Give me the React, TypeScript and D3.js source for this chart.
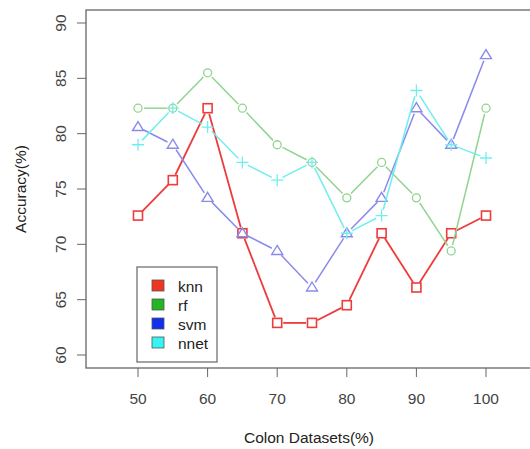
import * as d3 from "d3";

const xVals = [50, 55, 60, 65, 70, 75, 80, 85, 90, 95, 100];
const knn = [72.6, 75.8, 82.3, 71.0, 62.9, 62.9, 64.5, 71.0, 66.1, 71.0, 72.6];
const rf = [82.3, 82.3, 85.5, 82.3, 79.0, 77.4, 74.2, 77.4, 74.2, 69.4, 82.3];
const svm = [80.6, 79.0, 74.2, 71.0, 69.4, 66.1, 71.0, 74.2, 82.3, 79.0, 87.1];
const nnet = [79.0, 82.3, 80.6, 77.4, 75.8, 77.4, 71.0, 72.6, 83.9, 79.0, 77.8];
const xTicks = [50, 60, 70, 80, 90, 100];
const yTicks = [60, 65, 70, 75, 80, 85, 90];
const legendNames = ["knn", "rf", "svm", "nnet"];

const seriesList = [
  { name: "knn", values: knn, line: "#ee3b3b", mark: "square", fill: "#f0361e" },
  { name: "rf", values: rf, line: "#8fd48f", mark: "circle", fill: "#22b622" },
  { name: "svm", values: svm, line: "#8a8aee", mark: "triangle", fill: "#1030ee" },
  { name: "nnet", values: nnet, line: "#70eeee", mark: "plus", fill: "#36f4f4" },
];

const left = 86;
const right = 536;
const top = 10;
const bottom = 368;

export default function App() {
  const x = d3.scaleLinear().domain([50, 100]).range([138, 486]);
  const y = d3.scaleLinear().domain([60, 90]).range([355, 23]);
  const font = "'Liberation Sans', Arial, sans-serif";
  const fs = 15.5;
  const gap = 6;

  const marker = (kind: string, cx: number, cy: number, color: string, key: string) => {
    if (kind === "square")
      return <rect key={key} x={cx - 4.5} y={cy - 4.5} width={9} height={9} fill="none" stroke={color} strokeWidth={1.6} />;
    if (kind === "circle")
      return <circle key={key} cx={cx} cy={cy} r={4} fill="none" stroke={color} strokeWidth={1.3} />;
    if (kind === "triangle")
      return <path key={key} d={`M${cx},${cy - 5.5}L${cx + 5.5},${cy + 3.5}L${cx - 5.5},${cy + 3.5}Z`} fill="none" stroke={color} strokeWidth={1.4} />;
    return <path key={key} d={`M${cx - 6},${cy}H${cx + 6}M${cx},${cy - 6}V${cy + 6}`} stroke={color} strokeWidth={1.3} />;
  };

  return (
    <svg width={530} height={449} style={{ position: "absolute", left: 0, top: 0, background: "#fff" }}>
      {/* frame */}
      <rect x={left} y={top} width={right - left} height={bottom - top} fill="none" stroke="#666" strokeWidth={1.3} />

      {/* y axis */}
      {yTicks.map((t) => (
        <g key={"y" + t}>
          <line x1={left - 9} x2={left} y1={y(t)} y2={y(t)} stroke="#666" />
          <text
            transform={`translate(66,${y(t)}) rotate(-90)`}
            textAnchor="middle"
            fontFamily={font}
            fontSize={fs}
            fill="#444"
          >
            {t}
          </text>
        </g>
      ))}
      <text transform={`translate(26,${(top + bottom) / 2}) rotate(-90)`} textAnchor="middle" fontFamily={font} fontSize={fs} fill="#222">
        Accuracy(%)
      </text>

      {/* x axis */}
      {xTicks.map((t) => (
        <g key={"x" + t}>
          <line x1={x(t)} x2={x(t)} y1={bottom} y2={bottom + 9} stroke="#666" />
          <text x={x(t)} y={404} textAnchor="middle" fontFamily={font} fontSize={fs} fill="#444">
            {t}
          </text>
        </g>
      ))}
      <text x={(left + right) / 2 - 2} y={443} textAnchor="middle" fontFamily={font} fontSize={fs} fill="#222">
        Colon Datasets(%)
      </text>

      {/* series */}
      {seriesList.map((s) => {
        const pts = s.values.map((v, i) => [x(xVals[i]), y(v)]);
        const segs = [];
        for (let i = 0; i < pts.length - 1; i++) {
          const [x1, y1] = pts[i];
          const [x2, y2] = pts[i + 1];
          const len = Math.hypot(x2 - x1, y2 - y1);
          if (len <= gap * 2) continue;
          const ux = (x2 - x1) / len;
          const uy = (y2 - y1) / len;
          segs.push(
            <line
              key={s.name + "l" + i}
              x1={x1 + ux * gap}
              y1={y1 + uy * gap}
              x2={x2 - ux * gap}
              y2={y2 - uy * gap}
              stroke={s.line}
              strokeWidth={s.name === "knn" ? 1.8 : 1.5}
            />
          );
        }
        return (
          <g key={s.name}>
            {segs}
            {pts.map((p, i) => marker(s.mark, p[0], p[1], s.line, s.name + "m" + i))}
          </g>
        );
      })}

      {/* legend */}
      <rect x={137} y={267} width={80} height={95} fill="#fff" stroke="#666" strokeWidth={1.2} />
      {legendNames.map((n, i) => (
        <g key={n}>
          <rect x={152} y={280 + i * 19} width={12} height={11} fill={seriesList[i].fill} stroke="#555" strokeWidth={0.8} />
          <text x={178} y={291.5 + i * 19} fontFamily={font} fontSize={fs} fill="#222">
            {n}
          </text>
        </g>
      ))}
    </svg>
  );
}
